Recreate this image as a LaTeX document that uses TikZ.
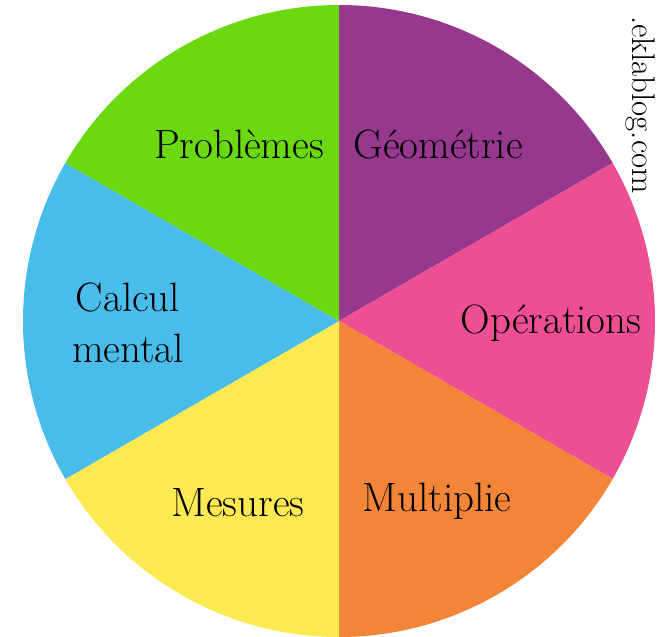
\documentclass[tikz,border=0pt]{standalone}
\definecolor{geocol}{HTML}{96388D}
\definecolor{opecol}{HTML}{EE4F92}
\definecolor{mulcol}{HTML}{F28538}
\definecolor{mescol}{HTML}{FDEA52}
\definecolor{calcol}{HTML}{4ABCEA}
\definecolor{procol}{HTML}{6BD910}
\tikzset{
  wordlbl/.style={font=\fontsize{35}{44}\selectfont, text=black, align=center, inner sep=0pt},
}
\begin{document}
\begin{tikzpicture}[x=0.03cm,y=0.03cm]
                \useasboundingbox (0,0) rectangle (667,636);
                \coordinate (c) at (339,315);
                \foreach \a/\col in {30/geocol,-30/opecol,-90/mulcol,-150/mescol,150/calcol,90/procol}
                    \fill[\col] (c) -- ++(\a:316) arc[start angle=\a, delta angle=60, radius=316] -- cycle;
                \node[wordlbl] (pro) at (239,492) {Problèmes};
                \node[wordlbl] (geo) at (438,492) {Géométrie};
                \node[wordlbl] (cal) at (128,313) {Calcul\\mental};
                \node[wordlbl] (ope) at (551,313) {Opérations};
                \node[wordlbl] (mes) at (238,133) {Mesures};
                \node[wordlbl] (mul) at (437,135) {Multiplie};
                \node[font=\fontsize{28}{32}\selectfont, rotate=-90, inner sep=0pt] (blog) at (641,531) {.eklablog.com};
            \end{tikzpicture}
\end{document}
